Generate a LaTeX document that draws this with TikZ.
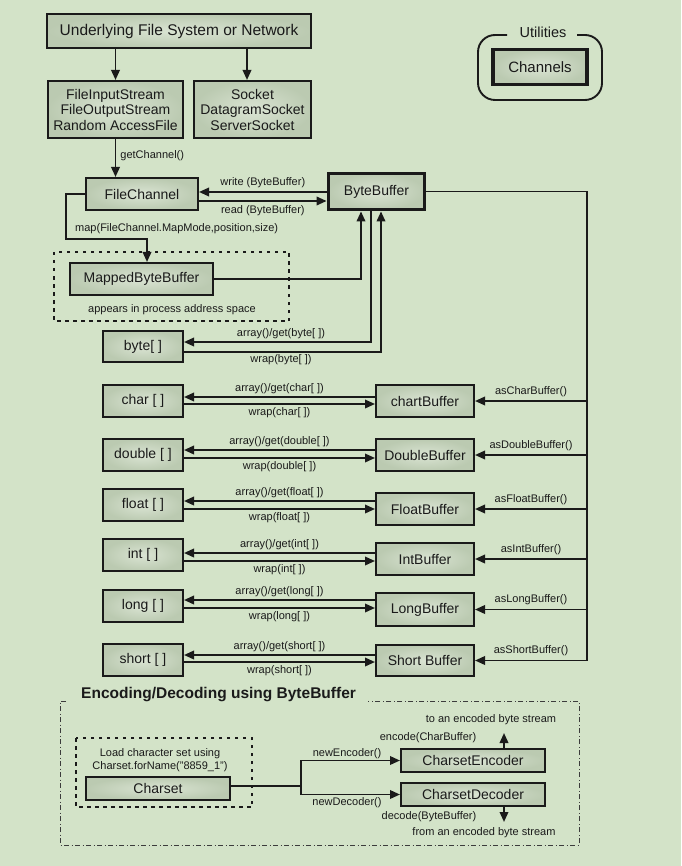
\documentclass[tikz,border=0pt]{standalone}
\usepackage{fontspec}
\setmainfont{Liberation Sans}
\usetikzlibrary{arrows.meta,calc}
\definecolor{bgc}{HTML}{D3E3C8}
\definecolor{inkc}{HTML}{1A1A1A}
\definecolor{boxin}{HTML}{DAE4D3}
\definecolor{boxout}{HTML}{BBCAB1}

\begin{document}
\begin{tikzpicture}[x=1pt,y=-1pt,
  box/.style={draw=inkc, line width=2pt, inner color=boxin, outer color=boxout,
    inner sep=0pt, text=inkc, font=\fontsize{14}{15.5}\selectfont, align=center},
  heavy/.style={box, line width=3.8pt},
  wh/.style 2 args={minimum width=#1pt, minimum height=#2pt},
  conn/.style={draw=inkc, line width=1.9pt},
  arr/.style={conn, -{Triangle[length=10pt,width=8.5pt]}},
  lbl/.style={text=inkc, font=\fontsize{11}{13}\selectfont, inner sep=0pt},
  dotbox/.style={draw=inkc, line width=2.1pt, dash pattern=on 3.5pt off 4.5pt},
  dashdotbox/.style={draw=inkc!85, line width=0.9pt, dash pattern=on 5pt off 2.5pt on 1pt off 2.5pt},
]
\useasboundingbox (0,0) rectangle (681,866);
\fill[bgc] (0,0) rectangle (681,866);

% ---- sources and channels ----
\node[box, wh={264}{34}, font=\fontsize{15.5}{17}\selectfont] (under) at (179,31) {Underlying File System or Network};
\node[box, wh={135}{57}] (fis) at (115.5,109.5) {FileInputStream\\FileOutputStream\\Random AccessFile};
\node[box, wh={117}{57}] (sock) at (252.5,109.5) {Socket\\DatagramSocket\\ServerSocket};
\draw[arr] (under.south -| fis.north) -- (fis.north);
\draw[arr] ([xshift=-5.5pt]under.south -| sock.north) -- ([xshift=-5.5pt]sock.north);

% utilities legend
\draw[conn, rounded corners=17pt] (507,35) -- (478,35) -- (478,100) -- (602,100) -- (602,35) -- (577,35);
\node[lbl, font=\fontsize{14.5}{16}\selectfont] (util) at (543,32) {Utilities};
\node[heavy, wh={94}{35}, font=\fontsize{15}{17}\selectfont] (chan) at (540,67) {Channels};

\node[box, wh={112}{32}] (fc) at (142,194) {FileChannel};
\node[heavy, wh={96}{36}] (bb) at (376.5,191.5) {ByteBuffer};
\draw[arr] (fis.south) -- (fis.south |- fc.north)
  node[lbl, pos=0.45, right=4pt] (getch) {getChannel()};

\draw[arr] ([yshift=-0.5pt]bb.west) -- ([yshift=-0.5pt]bb.west -| fc.east)
  node[lbl, midway, above=3pt] (wr) {write (ByteBuffer)};
\draw[arr] ([yshift=-9.5pt]bb.west -| fc.east) -- ([yshift=-9.5pt]bb.west)
  node[lbl, midway, below=4pt] (rd) {read (ByteBuffer)};

% ---- memory mapping ----
\draw[dotbox] (54,252) rectangle (289,321);
\node[box, wh={143}{32}] (mbb) at (141.5,279) {MappedByteBuffer};
\node[lbl] (addr) at (172,310) {appears in process address space};
\coordinate (mapturn) at (66,239);
\draw[arr] (fc.west) -| (mapturn) -| ([xshift=5.5pt]mbb.north);
\node[lbl, anchor=west] (maplbl) at (75,229) {map(FileChannel.MapMode,position,size)};
\draw[arr] (mbb.east) -| ([xshift=-15.5pt]bb.south);

% ---- byte array ----
\node[box, wh={80}{31}] (byte) at (143,346.5) {byte[ ]};
\draw[arr] ([xshift=-5.5pt]bb.south) |- ([yshift=4.5pt]byte.east);
\draw[arr] ([yshift=-5.5pt]byte.east) -| ([xshift=4.5pt]bb.south);
\node[lbl] (bya) at (281,334) {array()/get(byte[ ])};
\node[lbl] (byw) at (281,360) {wrap(byte[ ])};

% ---- typed arrays and views ----
\coordinate (rail) at (587,191.5);
\node[box, wh={80}{32}] (ach) at (143,401) {char [ ]};
\node[box, wh={80}{32}] (adb) at (143,455) {double [ ]};
\node[box, wh={80}{32}] (afl) at (143,505) {float [ ]};
\node[box, wh={80}{32}] (ain) at (143,555) {int [ ]};
\node[box, wh={80}{32}] (alo) at (143,606) {long [ ]};
\node[box, wh={80}{32}] (ash) at (143,660) {short [ ]};
\node[box, wh={98}{32}] (bch) at (425,401) {chartBuffer};
\node[box, wh={98}{32}] (bdb) at (425,455) {DoubleBuffer};
\node[box, wh={98}{32}] (bfl) at (425,509) {FloatBuffer};
\node[box, wh={98}{32}] (bin) at (425,559) {IntBuffer};
\node[box, wh={98}{33}] (blo) at (425,609.5) {LongBuffer};
\node[box, wh={98}{31}] (bsh) at (425,660.5) {Short Buffer};

\draw[conn] (bb.east) -- (rail) -- (rail |- bsh.east);

\foreach \a/\b/\kind/\Kind/\ya/\yw in {
    ach/bch/char/Char/4/-3, adb/bdb/double/Double/5/-3, afl/bfl/float/Float/8/0,
    ain/bin/int/Int/6/-2, alo/blo/long/Long/9.5/1.5, ash/bsh/short/Short/5.5/-1.5} {
  \draw[arr] ([yshift=\ya pt]\b.west) -- ([yshift=\ya pt]\b.west -| \a.east)
    node[lbl, midway, above=2pt] (get-\kind) {array()/get(\kind[ ])};
  \draw[arr] ([yshift=\yw pt]\b.west -| \a.east) -- ([yshift=\yw pt]\b.west)
    node[lbl, midway, below=2.5pt] (wrap-\kind) {wrap(\kind[ ])};
  \draw[arr] (rail |- \b.east) -- (\b.east)
    node[lbl, midway, above=3.5pt] (as-\kind) {as\Kind Buffer()};
}

% ---- encoding / decoding ----
\node[anchor=west, inner sep=0pt, text=inkc, font=\bfseries\fontsize{15.5}{17}\selectfont] (enctitle) at (81,695) {Encoding/Decoding using ByteBuffer};
\draw[dashdotbox] (66,701) -- (60,701) -- (60,845) -- (579,845) -- (579,701) -- (368,701);
\draw[dotbox] (76,738) rectangle (252,807);
\node[lbl, align=center] (loadcs) at (160,760.5) {Load character set using\\Charset.forName("8859\_1")};
\node[box, wh={144}{23}] (cs) at (158,788.5) {Charset};
\node[box, wh={144}{23}] (enc) at (473,760.5) {CharsetEncoder};
\node[box, wh={144}{23}] (dec) at (473,794.5) {CharsetDecoder};
\coordinate (br) at (301,786);
\draw[conn] ([yshift=2.5pt]cs.east) -- (br);
\draw[arr] (br) |- (enc.west);
\draw[arr] (br) |- (dec.west);
\node[lbl] (newenc) at (347,754) {newEncoder()};
\node[lbl] (newdec) at (347,803) {newDecoder()};
\coordinate (encout) at (504,733);
\coordinate (decout) at (504,822);
\draw[arr] (encout |- enc.north) -- (encout);
\draw[arr] (decout |- dec.south) -- (decout);
\node[lbl] (enclbl) at (428,738) {encode(CharBuffer)};
\node[lbl] (encto) at (491,720) {to an encoded byte stream};
\node[lbl] (declbl) at (429,817) {decode(ByteBuffer)};
\node[lbl] (decfrom) at (484,833) {from an encoded byte stream};
\end{tikzpicture}
\end{document}
